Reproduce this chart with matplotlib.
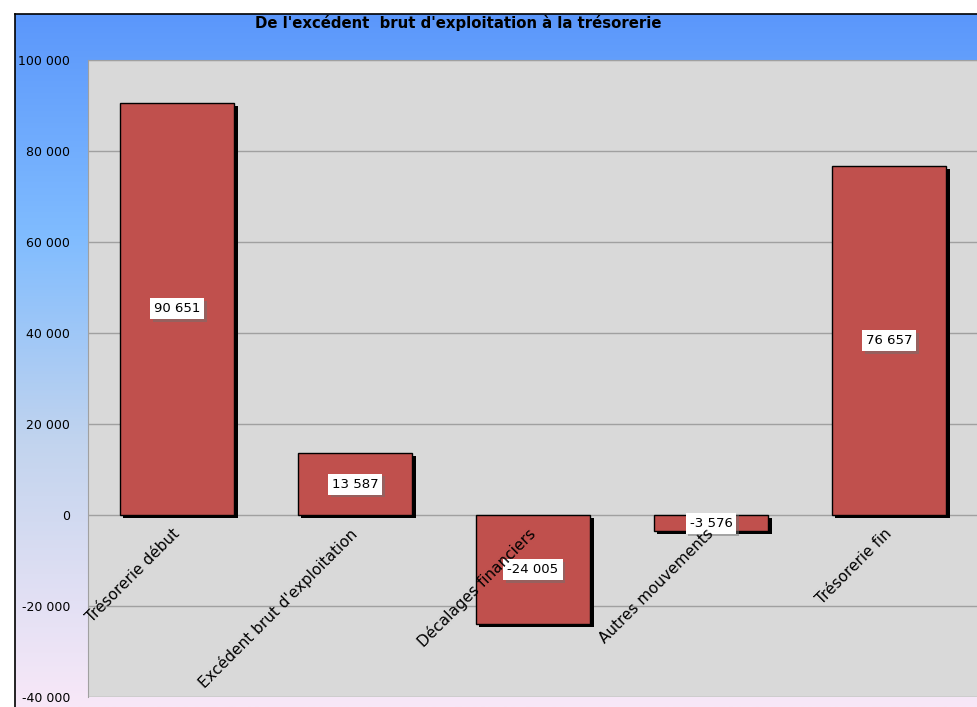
import numpy as np
import matplotlib
matplotlib.use("Agg")
import matplotlib.pyplot as plt
import matplotlib.patheffects as pe
from matplotlib.colors import LinearSegmentedColormap

# --- data ---
categories = ["Trésorerie début", "Excédent brut d'exploitation",
              "Décalages financiers", "Autres mouvements", "Trésorerie fin"]
values = [90651, 13587, -24005, -3576, 76657]
y_ticks = [-40000, -20000, 0, 20000, 40000, 60000, 80000, 100000]
title = "De l'excédent  brut d'exploitation à la trésorerie"


def fmt(v):
    return f"{v:,.0f}".replace(",", " ")


fig = plt.figure(figsize=(9.78, 7.07), dpi=100)
fig.patch.set_facecolor("white")

# gradient background of the chart area
bg_ax = fig.add_axes([15 / 978, 0, 1 - 15 / 978, 1 - 14 / 707])
grad = LinearSegmentedColormap.from_list(
    "bg", [(0.0, "#5b97fb"), (0.32, "#80bcff"), (0.62, "#c2d4ee"), (1.0, "#f8e8f8")])
bg_ax.imshow(np.linspace(0, 1, 256).reshape(-1, 1), aspect="auto", cmap=grad,
             extent=[0, 1, 0, 1], origin="upper")
bg_ax.set_xlim(0, 1)
bg_ax.set_ylim(0, 1)
bg_ax.set_xticks([])
bg_ax.set_yticks([])
for side in ["right", "bottom"]:
    bg_ax.spines[side].set_visible(False)
for side in ["left", "top"]:
    bg_ax.spines[side].set_color("black")
    bg_ax.spines[side].set_linewidth(1.2)

fig.text(458 / 978, 1 - 23 / 707, title, ha="center", va="center",
         fontsize=10.7, fontweight="bold", color="black")

ax = fig.add_axes([88 / 978, 1 - 697 / 707, 1 - 88 / 978, (697 - 60) / 707])
ax.set_facecolor("#d9d9d9")
x = np.arange(len(categories))
ax.set_xlim(-0.5, len(categories) - 0.5)
ax.set_ylim(-40000, 100000)
ax.set_yticks(y_ticks)
ax.set_yticklabels([fmt(v) for v in y_ticks], fontsize=9)
ax.tick_params(axis="y", length=0, pad=13)
ax.set_xticks([])
ax.grid(axis="y", color="#a0a0a0", linewidth=1)
ax.set_axisbelow(True)
for side in ["right", "bottom"]:
    ax.spines[side].set_visible(False)
ax.spines["left"].set_color("#a0a0a0")
ax.spines["top"].set_color("#a0a0a0")

bars = ax.bar(x, values, width=0.646, color="#c0504d", edgecolor="black",
              linewidth=1, zorder=3)
for b in bars:
    b.set_path_effects([pe.SimplePatchShadow(offset=(2.3, -2.3), shadow_rgbFace="black",
                                             alpha=1.0), pe.Normal()])

for xi, v in zip(x, values):
    ypos = v / 2
    # box shadow
    ax.annotate(fmt(v), (xi, ypos), xytext=(2, -2), textcoords="offset points",
                ha="center", va="center", fontsize=9.5, color="none", zorder=4,
                bbox=dict(boxstyle="square,pad=0.3", fc="#707070", ec="none", alpha=0.5))
    ax.text(xi, ypos, fmt(v), ha="center", va="center", fontsize=9.5, color="black",
            zorder=5, bbox=dict(boxstyle="square,pad=0.3", fc="white", ec="none"))

for xi, cat in zip(x, categories):
    ax.annotate(cat, (xi, 0), xytext=(0, -12), textcoords="offset points",
                rotation=45, rotation_mode="anchor", ha="right", va="center",
                fontsize=11, color="black", zorder=6)

fig.savefig("out.png", dpi=100)
